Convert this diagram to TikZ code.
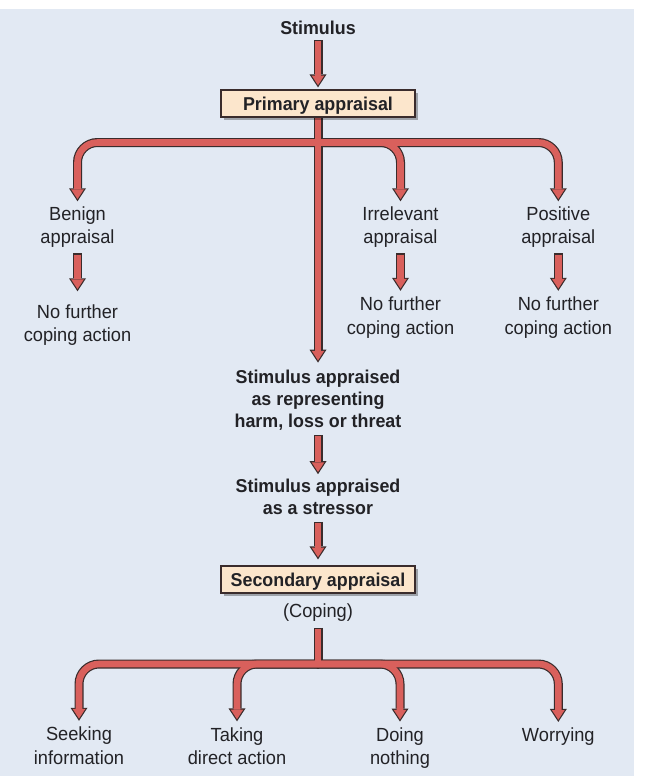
\documentclass[tikz,border=0pt]{standalone}
\usepackage{fontspec}
\setmainfont[FakeStretch=0.96]{Liberation Sans}
\usetikzlibrary{arrows.meta,shadows}

\definecolor{bleu}{HTML}{E2E9F3}
\definecolor{rouge}{HTML}{D9605C}
\definecolor{contour}{HTML}{3A2C2C}
\definecolor{peche}{HTML}{FCE6CC}
\definecolor{encre}{HTML}{222226}

\pgfdeclarelayer{fondbleu}
\pgfdeclarelayer{fleches}
\pgfsetlayers{fondbleu,fleches,main}

\tikzset{
  texte/.style={align=center, inner sep=0pt, text=encre, font=\fontsize{19}{23.3}\selectfont},
  titre/.style={align=center, inner sep=0pt, text=encre, font=\fontsize{18.6}{22}\selectfont\bfseries},
  boite/.style={draw=contour, line width=1.2pt, fill=peche, text=encre, inner sep=0pt,
    font=\fontsize{18.6}{22}\selectfont\bfseries, minimum width=194pt, minimum height=27pt,
    text height=13.5pt, text depth=0pt,
    drop shadow={shadow xshift=2.5pt, shadow yshift=-2.5pt, fill=black, opacity=0.3}},
  fond/.style 2 args={draw=contour, line width=9pt, rounded corners=20pt,
    shorten <=#1, shorten >=#2, -{Triangle[length=13pt, width=17pt, line width=0pt]}},
  dessus/.style 2 args={draw=rouge, line width=6.6pt, rounded corners=20pt,
    shorten <=#1+1.2pt, shorten >=#2+2.2pt, -{Triangle[length=9.6pt, width=12.6pt, line width=0pt]}},
}

% toutes les fleches, dessinees deux fois (contour puis rouge)
\newcommand{\fleches}[1]{%
  \draw[#1={5.7pt}{2pt}] (stim.south) -- (prim.north) ;
  \draw[#1={-2pt}{7pt}] (prim.south) -- (harm.north) ;
  \foreach \n in {benign,irr,pos} {
    \draw[#1={-1.2pt}{5pt}] (haut) -| (\n.north) ;
  }
  \draw[#1={5.7pt}{13.4pt}] (benign.south) -- (nf1.north) ;
  \draw[#1={5.7pt}{6.1pt}] (irr.south) -- (nf2.north) ;
  \draw[#1={5.7pt}{6.1pt}] (pos.south) -- (nf3.north) ;
  \draw[#1={4.7pt}{4.5pt}] (harm.south) -- (stress.north) ;
  \draw[#1={7.2pt}{6pt}] (stress.south) -- (sec.north) ;
  \draw[#1={6.6pt}{0pt}, -] (coping.south) -- (bas) ;
  \foreach \n in {seek,take,doing,worry} {
    \draw[#1={-1.2pt}{6pt}] (bas) -| (\n.north) ;
  }
}

\begin{document}
\begin{tikzpicture}[x=1pt, y=-1pt]

  % Bounding box of the scheme
  \useasboundingbox (0,0) rectangle (647,776) ;

  %%%%%%%%%%%%%%%%%%%%%%%%%%%%%%%%% Fond %%%%%%%%%%%%%%%%%%%%%%%%%%%%%%%%%%%%
  \begin{pgfonlayer}{fondbleu}
    \fill[white] (0,0) rectangle (647,776) ;
    \fill[bleu] (0,9) rectangle (634,776) ;
  \end{pgfonlayer}

  %%%%%%%%%%%%%%%%%%%%%%%%%%%%%%%%% Appraisal primaire %%%%%%%%%%%%%%%%%%%%%%%%%%%%%%%%%%%%
  \draw (318,27.5) node[titre] (stim) {Stimulus} ;
  \draw (318,103.5) node[boite] (prim) {Primary appraisal} ;
  \coordinate (haut) at (318,142.5) ;

  \draw (77.5,227) node[texte] (benign) {Benign\\appraisal} ;
  \draw (400.5,227) node[texte] (irr) {Irrelevant\\appraisal} ;
  \draw (558.3,227) node[texte] (pos) {Positive\\appraisal} ;

  \draw (77.5,325.4) node[texte] (nf1) {No further\\coping action} ;
  \draw (400.5,317.6) node[texte] (nf2) {No further\\coping action} ;
  \draw (558.3,317.6) node[texte] (nf3) {No further\\coping action} ;

  %%%%%%%%%%%%%%%%%%%%%%%%%%%%%%%%% Stresseur %%%%%%%%%%%%%%%%%%%%%%%%%%%%%%%%%%%%
  \draw (318,400) node[titre] (harm) {Stimulus appraised\\as representing\\harm, loss or threat} ;
  \draw (318,496.7) node[titre] (stress) {Stimulus appraised\\as a stressor} ;

  %%%%%%%%%%%%%%%%%%%%%%%%%%%%%%%%% Appraisal secondaire %%%%%%%%%%%%%%%%%%%%%%%%%%%%%%%%%%%%
  \draw (318,579.5) node[boite] (sec) {Secondary appraisal} ;
  \draw (318,612.3) node[texte] (coping) {(Coping)} ;
  \coordinate (bas) at (318,664) ;

  \draw (79,745.6) node[texte] (seek) {Seeking\\information} ;
  \draw (237,746.2) node[texte] (take) {Taking\\direct action} ;
  \draw (400,748.3) node[texte] (doing) {Doing\\nothing} ;
  \draw (558.3,737) node[texte] (worry) {Worrying} ;

  %%%%%%%%%%%%%%%%%%%%%%%%%%%%%%%%% Fleches %%%%%%%%%%%%%%%%%%%%%%%%%%%%%%%%%%%%
  \begin{pgfonlayer}{fleches}
    \fleches{fond}
    \fleches{dessus}
  \end{pgfonlayer}

\end{tikzpicture}
\end{document}
